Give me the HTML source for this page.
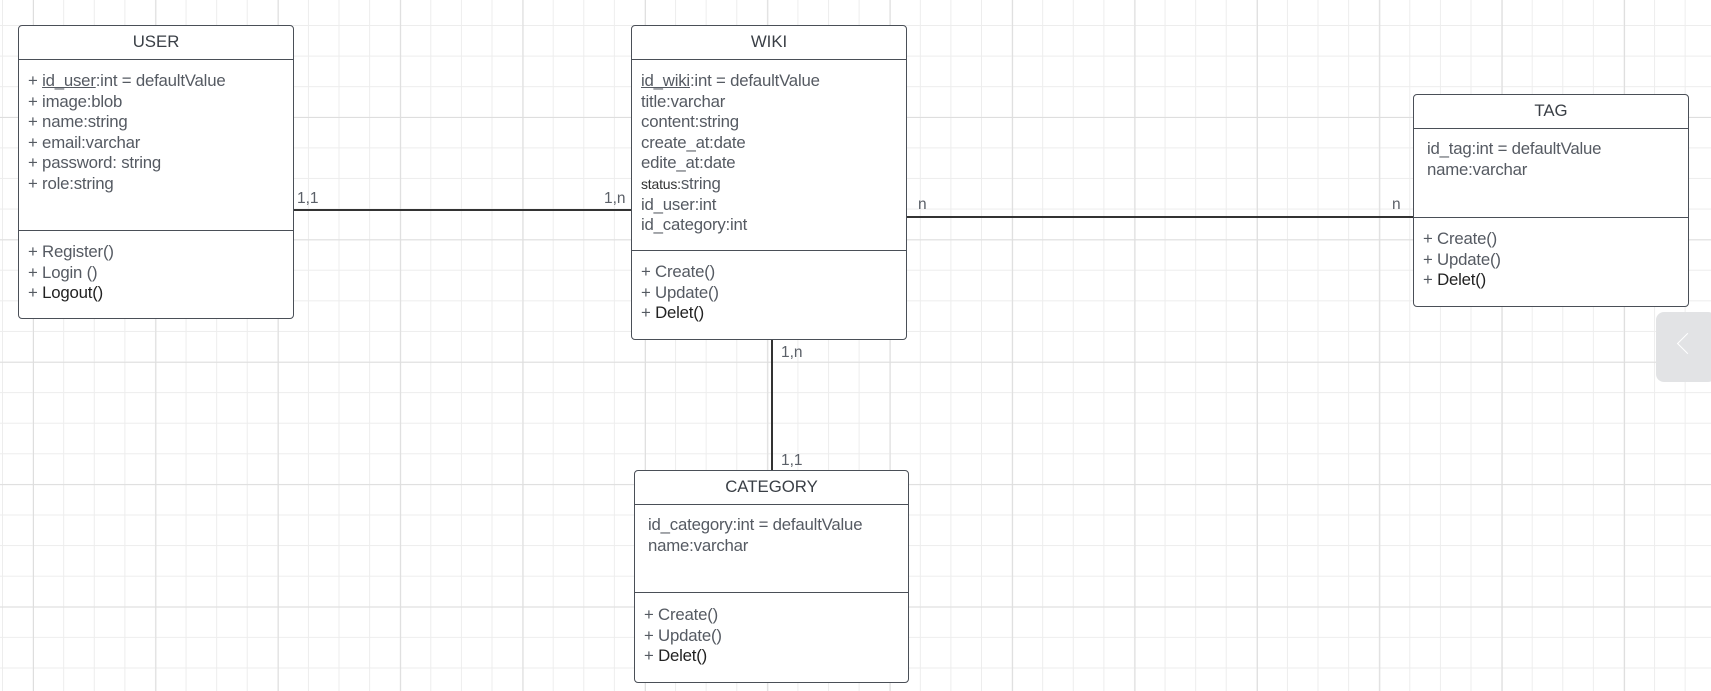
<!DOCTYPE html>
<html><head><style>
body{margin:0;width:1711px;height:691px;overflow:hidden;background:#fff;
background-image:linear-gradient(#dedede 1px,transparent 1px),linear-gradient(90deg,#dedede 1px,transparent 1px),linear-gradient(#ededed 1px,transparent 1px),linear-gradient(90deg,#ededed 1px,transparent 1px);
background-size:122.4px 122.4px,122.4px 122.4px,30.6px 30.6px,30.6px 30.6px;background-position:33px 117px,33px 117px,2px 25px,2px 25px;font-family:"Liberation Sans",sans-serif;position:relative}
.b{position:absolute;border:1.5px solid #4a4f57;border-radius:4px;background:#fff;box-sizing:border-box}
.h{position:absolute;left:0;right:0;top:0;height:33px;border-bottom:1.5px solid #4a4f57;text-align:center;line-height:31px;font-size:16.8px;color:#3a3f46}
.d{position:absolute;left:0;right:0;border-top:1.5px solid #4a4f57}
.t{position:absolute;font-size:16.8px;line-height:20.6px;color:#555a62;white-space:pre;letter-spacing:-0.2px}
.k{color:#222}
.l{position:absolute;background:#333}
.lb{position:absolute;font-size:15.5px;color:#5b6068}
</style></head><body>
<div class="l" style="left:294px;top:209px;width:337px;height:1.7px"></div>
<div class="l" style="left:907px;top:216px;width:506px;height:1.7px"></div>
<div class="l" style="left:771px;top:340px;width:1.7px;height:130px"></div>

<div class="b" style="left:18px;top:25px;width:276px;height:294px">
<div class="h">USER</div>
<div class="t" style="left:9px;top:45px">+ <u>id_user</u>:int = defaultValue
+ image:blob
+ name:string
+ email:varchar
+ password: string
+ role:string</div>
<div class="d" style="top:204px"></div>
<div class="t" style="left:9px;top:216px">+ Register()
+ Login ()
+ <span class="k">Logout()</span></div>
</div>

<div class="b" style="left:631px;top:25px;width:276px;height:315px">
<div class="h">WIKI</div>
<div class="t" style="left:9px;top:45px"><u>id_wiki</u>:int = defaultValue
title:varchar
content:string
create_at:date
edite_at:date
<span style="font-size:14px;color:#333">status:</span>string
id_user:int
id_category:int</div>
<div class="d" style="top:224px"></div>
<div class="t" style="left:9px;top:236px">+ Create()
+ Update()
+ <span class="k">Delet()</span></div>
</div>

<div class="b" style="left:1413px;top:94px;width:276px;height:213px">
<div class="h">TAG</div>
<div class="t" style="left:13px;top:44px">id_tag:int = defaultValue
name:varchar</div>
<div class="d" style="top:122px"></div>
<div class="t" style="left:9px;top:134px">+ Create()
+ Update()
+ <span class="k">Delet()</span></div>
</div>

<div class="b" style="left:634px;top:470px;width:275px;height:213px">
<div class="h">CATEGORY</div>
<div class="t" style="left:13px;top:44px">id_category:int = defaultValue
name:varchar</div>
<div class="d" style="top:121px"></div>
<div class="t" style="left:9px;top:134px">+ Create()
+ Update()
+ <span class="k">Delet()</span></div>
</div>

<div class="lb" style="left:297px;top:190px">1,1</div>
<div class="lb" style="left:604px;top:190px">1,n</div>
<div class="lb" style="left:918px;top:196px">n</div>
<div class="lb" style="left:1392px;top:196px">n</div>
<div class="lb" style="left:781px;top:344px">1,n</div>
<div class="lb" style="left:781px;top:452px">1,1</div>

<div style="position:absolute;left:1656px;top:312px;width:60px;height:70px;background:#e2e3e5;border-radius:8px"></div>
<div style="position:absolute;left:1680px;top:336px;width:14px;height:14px;border-left:1.5px solid #fff;border-bottom:1.5px solid #fff;transform:rotate(45deg)"></div>
</body></html>
